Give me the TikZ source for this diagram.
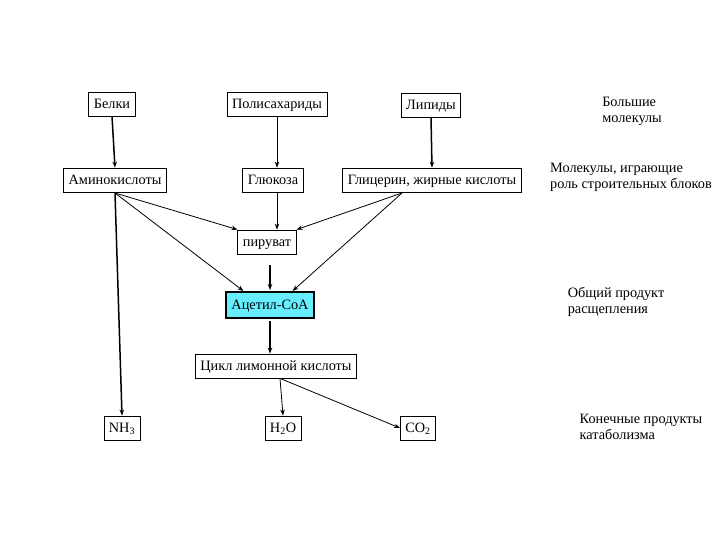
\documentclass[tikz,border=0pt]{standalone}
\usepackage{fontspec}
\setmainfont{Liberation Serif}
\usetikzlibrary{arrows.meta}
\definecolor{acetyl}{RGB}{102,238,255}

\tikzset{
  box/.style={draw=black, line width=0.8pt, fill=white, inner xsep=5pt, inner ysep=3pt,
    text height=11.5pt, text depth=3pt, minimum height=24pt, font=\fontsize{14.3}{16}\selectfont},
  mainbox/.style={box, line width=2pt, fill=acetyl, minimum height=26pt},
  note/.style={align=left, inner sep=0pt, font=\fontsize{14.3}{16}\selectfont},
  arr/.style={-{Stealth[length=6pt,width=4.5pt]}, line width=0.8pt},
  tarr/.style={arr, line width=1.5pt}
}

\begin{document}
\begin{tikzpicture}[x=1pt, y=-1pt]
\useasboundingbox (0,0) rectangle (720,540);
% big molecules
\node (belki) at (112,104) [box] {Белки};
\node (poly) at (277,104) [box] {Полисахариды};
\node (lip) at (431,105) [box] {Липиды};
% building blocks
\node (amino) at (115,180) [box] {Аминокислоты};
\node (glu) at (273,180) [box] {Глюкоза};
\node (glyc) at (432,180) [box] {Глицерин, жирные кислоты};
\node (pyr) at (267,242) [box] {пируват};
\node (acoa) at (270,305) [mainbox] {Ацетил-СоА};
\node (cycle) at (276,366) [box] {Цикл лимонной кислоты};
% end products
\node (nh) at (122,428) [box] {NH\textsubscript{3}};
\node (water) at (283,428) [box] {H\textsubscript{2}O};
\node (co) at (418,428) [box] {CO\textsubscript{2}};
% notes on the right
\node (n1) at (632,111) [note] {Большие\\молекулы};
\node (n2) at (631,177) [note] {Молекулы, играющие\\роль строительных блоков};
\node (n3) at (616,302) [note] {Общий продукт\\расщепления};
\node (n4) at (641,427) [note] {Конечные продукты\\катаболизма};

\coordinate (aminoout) at (115,193);
\coordinate (glycout) at (402,193);
\coordinate (pyrout) at (270,265);
\coordinate (acoain) at (270,290);

\draw[tarr] (belki.south) -- (amino.north);
\draw[arr] (poly.south) -- (poly.south |- glu.north);
\draw[tarr] (lip.south) -- (glyc.north);
\draw[arr] (glu.south -| poly.south) -- (poly.south |- pyr.north);
\draw[arr] (aminoout) -- (pyr.north west);
\draw[arr] (aminoout) -- ([xshift=18pt]acoa.north west);
\draw[arr] (glycout) -- (pyr.north east);
\draw[arr] (glycout) -- ([xshift=-22pt]acoa.north east);
\draw[tarr] (pyrout) -- (acoain);
\draw[tarr] ([yshift=-2pt]acoa.south) -- (cycle.north -| acoa.south);
\draw[tarr] (aminoout) -- (nh.north);
\draw[arr] ([xshift=4pt]cycle.south) -- (water.north);
\draw[arr] ([xshift=4pt]cycle.south) -- (co.west);
\end{tikzpicture}
\end{document}
